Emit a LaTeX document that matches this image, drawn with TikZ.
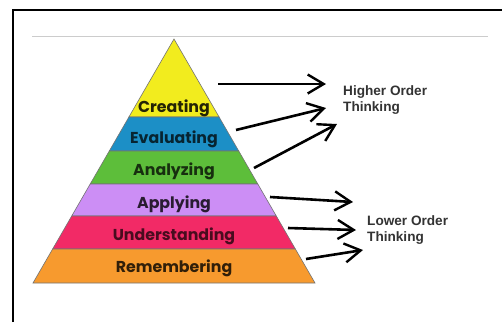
\documentclass[tikz,border=0pt]{standalone}
\usepackage{fontspec}
\setmainfont{Poppins}
\newfontfamily\labelfont{Liberation Sans}
\usetikzlibrary{arrows.meta}

\definecolor{creatingc}{HTML}{F2EC1E}
\definecolor{evaluatingc}{HTML}{1C8FC6}
\definecolor{analyzingc}{HTML}{5DBE3A}
\definecolor{applyingc}{HTML}{CC8EF5}
\definecolor{understandingc}{HTML}{F22A66}
\definecolor{rememberingc}{HTML}{F79A2E}

\tikzset{
    band/.style={draw=black!55, line width=0.6pt},
    level/.style={font=\fontsize{15.8}{18}\selectfont\bfseries, inner sep=0pt},
    thinking/.style={font=\labelfont\fontsize{13.6}{16}\selectfont\bfseries, text=black!80, align=left, anchor=west, inner sep=0pt},
    pointer/.style={line width=2.6pt, -{Straight Barb[length=16pt,width=19pt,line width=2.4pt]}}
}

\begin{document}
\begin{tikzpicture}[x=1pt, y=-1pt]
    \useasboundingbox (0,0) rectangle (502,322);
    \fill[white] (0,0) rectangle (502,322);
    % frame and rule
    \draw[line width=2pt] (13,322) -- (13,10) -- (502,10);
    \draw[black!20, line width=1pt] (32,36) -- (488,36);
    % pyramid
    \fill[creatingc] (174,39) -- (128.9,117) -- (219.1,117) -- cycle;
    \draw[band] (174,39) -- (128.9,117) -- (219.1,117) -- cycle;
    \foreach \ta/\tb/\col in {117/151/evaluatingc, 151/184/analyzingc, 184/216/applyingc, 216/249/understandingc, 249/283/rememberingc} {
        \draw[band, fill=\col] ({174-0.5779*(\ta-39)}, \ta) -- ({174+0.5779*(\ta-39)}, \ta)
            -- ({174+0.5779*(\tb-39)}, \tb) -- ({174-0.5779*(\tb-39)}, \tb) -- cycle;
    }
    \node[level, text=creatingc!15!black] (creating) at (174,108) {Creating};
    \node[level, text=evaluatingc!25!black] (evaluating) at (174,139) {Evaluating};
    \node[level, text=analyzingc!25!black] (analyzing) at (174,171) {Analyzing};
    \node[level, text=applyingc!20!black] (applying) at (174,204) {Applying};
    \node[level, text=understandingc!30!black] (understanding) at (174,236) {Understanding};
    \node[level, text=rememberingc!20!black] (remembering) at (174,268) {Remembering};
    % labels
    \node[thinking] (higher) at (343,100) {Higher Order\\Thinking};
    \node[thinking] (lower) at (367,230) {Lower Order\\Thinking};
    % arrows
    \coordinate (h1s) at (218,84);  \coordinate (h1e) at (326,84);
    \coordinate (h2s) at (236,130); \coordinate (h2e) at (326,108);
    \coordinate (h3s) at (254,168); \coordinate (h3e) at (337,124);
    \coordinate (l1s) at (270,197); \coordinate (l1e) at (353,202);
    \coordinate (l2s) at (288,228); \coordinate (l2e) at (356,230);
    \coordinate (l3s) at (306,259); \coordinate (l3e) at (363,250);
    \foreach \a in {h1, h2, h3, l1, l2, l3} {
        \draw[pointer] (\a s) -- (\a e);
    }
\end{tikzpicture}
\end{document}
